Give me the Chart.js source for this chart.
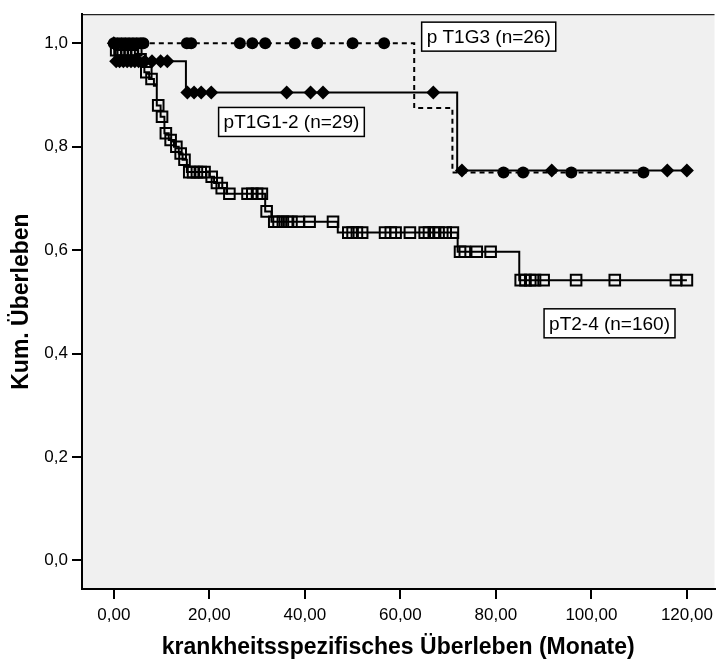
<!DOCTYPE html>
<html>
<head>
<meta charset="utf-8">
<script src="https://cdn.jsdelivr.net/npm/chart.js@4/dist/chart.umd.min.js"></script>
<style>
  html, body { margin: 0; padding: 0; background: #fff; }
  #wrap { width: 724px; height: 664px; }
</style>
</head>
<body>
<div id="wrap"><canvas id="chart" width="724" height="664"></canvas></div>
<script>
// pT1G3 (n=26): dashed line, circles mark censored cases
const g3Times = [0, 62.9, 70.9, 110.9];
const g3Surv = [1.0, 0.875, 0.75, 0.75];
const g3Censored = [0, 0.8, 1.6, 2.4, 3.2, 4.0, 4.8, 5.6, 6.2, 15.3, 16.2, 26.4, 29.0, 31.7, 37.9, 42.6, 50.0, 56.6,
  81.6, 85.7, 95.8, 110.9];

// pT1G1-2 (n=29): solid line, diamonds
const g12Times = [0, 0.4, 15.1, 71.9, 120];
const g12Surv = [1.0, 0.9655, 0.905, 0.754, 0.754];
const g12Censored = [0, 0.5, 1.2, 2.0, 2.8, 3.6, 4.4, 5.2, 6.5, 8.0, 9.8, 11.2,
  15.4, 16.8, 18.3, 20.4, 36.2, 41.2, 43.8, 66.9, 72.9, 91.7, 115.9, 120];

// pT2-4 (n=160): solid line, open squares
const g24Times = [0, 0.3, 5.0, 5.8, 6.4, 7.4, 8.4, 9.0, 9.8, 10.6, 11.5, 12.6, 13.6, 14.4, 15.3,
  20.0, 21.0, 22.0, 23.6, 31.7, 33.0, 46.9, 72.0, 84.9, 120];
const g24Surv = [1.0, 0.987, 0.969, 0.956, 0.944, 0.931, 0.918, 0.880, 0.858, 0.826, 0.813, 0.800, 0.787, 0.775, 0.751,
  0.742, 0.730, 0.720, 0.709, 0.675, 0.655, 0.634, 0.597, 0.542, 0.542];
const g24Censored = [0.5, 1.2, 1.9, 2.6, 3.3, 4.0, 4.7, 5.6, 6.8, 7.9, 9.3, 10.1, 10.9, 11.9, 13.1, 14.0, 14.8,
  15.8, 16.6, 17.4, 18.2, 19.0, 20.5, 21.6, 22.6, 24.2, 28.0, 29.0, 30.0, 31.0, 32.0, 33.6, 34.5, 35.4, 36.3,
  37.2, 38.7, 41.0, 45.9, 49.1, 50.0, 50.9, 52.0, 56.8, 58.0, 59.0, 62.0, 65.1, 66.0, 67.0, 68.0, 69.5, 71.0,
  72.5, 73.5, 76.0, 78.9, 85.2, 86.2, 87.2, 88.2, 90.0, 96.8, 104.9, 117.7, 120.0];

const xTicks = [0, 20, 40, 60, 80, 100, 120];
const yTicks = [0, 0.2, 0.4, 0.6, 0.8, 1.0];

// group labels placed in the plot [label, x (months), y (survival)]
const groupLabels = [
  ['p T1G3 (n=26)', 78.5, 1.013],
  ['pT1G1-2 (n=29)', 37.2, 0.848],
  ['pT2-4 (n=160)', 103.8, 0.4585]
];

const FONT = 'Arial, "Liberation Sans", sans-serif';

function curve(times, surv) {
  return times.map((t, i) => ({x: t, y: surv[i]}));
}

function survAt(times, surv, t) {
  let s = surv[0];
  for (let i = 0; i < times.length; i++) {
    if (times[i] <= t) s = surv[i];
  }
  return s;
}

function marks(times, surv, cens) {
  return cens.map(t => ({x: t, y: survAt(times, surv, t)}));
}

const plotBg = {
  id: 'plotBg',
  beforeDraw(chart) {
    const {ctx, chartArea: a} = chart;
    ctx.save();
    ctx.fillStyle = '#f0f0f0';
    ctx.fillRect(a.left, a.top, a.right - a.left, a.bottom - a.top);
    ctx.strokeStyle = '#222';
    ctx.lineWidth = 1.2;
    ctx.beginPath();
    ctx.moveTo(a.left, a.top + 0.5);
    ctx.lineTo(a.right, a.top + 0.5);
    ctx.stroke();
    ctx.restore();
  },
  afterDatasetsDraw(chart) {
    const {ctx, scales} = chart;
    ctx.save();
    ctx.font = '19px ' + FONT;
    ctx.textAlign = 'center';
    ctx.textBaseline = 'middle';
    groupLabels.forEach(([txt, x, y]) => {
      const cx = scales.x.getPixelForValue(x);
      const cy = scales.y.getPixelForValue(y);
      const w = ctx.measureText(txt).width + 10;
      const h = 29;
      ctx.fillStyle = '#fff';
      ctx.fillRect(cx - w / 2, cy - h / 2, w, h);
      ctx.strokeStyle = '#000';
      ctx.lineWidth = 1.5;
      ctx.strokeRect(cx - w / 2, cy - h / 2, w, h);
      ctx.fillStyle = '#000';
      ctx.fillText(txt, cx, cy + 1);
    });
    ctx.restore();
  }
};

new Chart(document.getElementById('chart'), {
  type: 'scatter',
  data: {
    datasets: [
      {
        label: 'pT2-4 (n=160)', data: curve(g24Times, g24Surv), showLine: true, stepped: 'before',
        borderColor: '#000', borderWidth: 2, pointRadius: 0, fill: false
      },
      {
        label: 'pT2-4 zensiert', data: marks(g24Times, g24Surv, g24Censored), showLine: false,
        pointStyle: 'rect', pointRadius: 7.5, borderWidth: 2, borderColor: '#000', backgroundColor: 'rgba(0,0,0,0)'
      },
      {
        label: 'p T1G3 (n=26)', data: curve(g3Times, g3Surv), showLine: true, stepped: 'before',
        borderColor: '#000', borderWidth: 2, borderDash: [5, 4], pointRadius: 0, fill: false
      },
      {
        label: 'p T1G3 zensiert', data: marks(g3Times, g3Surv, g3Censored), showLine: false,
        pointStyle: 'circle', pointRadius: 6, borderWidth: 0, backgroundColor: '#000'
      },
      {
        label: 'pT1G1-2 (n=29)', data: curve(g12Times, g12Surv), showLine: true, stepped: 'before',
        borderColor: '#000', borderWidth: 2, pointRadius: 0, fill: false
      },
      {
        label: 'pT1G1-2 zensiert', data: marks(g12Times, g12Surv, g12Censored), showLine: false,
        pointStyle: 'rectRot', pointRadius: 7, borderWidth: 0, backgroundColor: '#000'
      }
    ]
  },
  options: {
    responsive: false,
    animation: false,
    events: [],
    layout: {padding: {top: 7, right: 0, left: 0, bottom: 0}},
    plugins: {legend: {display: false}, tooltip: {enabled: false}},
    scales: {
      x: {
        type: 'linear', min: -6.66, max: 125.78,
        afterBuildTicks: s => { s.ticks = xTicks.map(v => ({value: v})); },
        afterFit: s => { s.height = 75; },
        grid: {drawOnChartArea: false, drawTicks: true, tickLength: 10, color: '#000', lineWidth: 2},
        border: {display: true, color: '#000', width: 2},
        ticks: {
          color: '#000', padding: 6, font: {family: FONT, size: 17},
          callback: v => v.toFixed(2).replace('.', ',')
        },
        title: {
          display: true, text: 'krankheitsspezifisches Überleben (Monate)', color: '#000',
          font: {family: FONT, size: 23, weight: 'bold', lineHeight: 1.2}, padding: {top: 0, bottom: 3}
        }
      },
      y: {
        type: 'linear', min: -0.0554, max: 1.0564,
        afterBuildTicks: s => { s.ticks = yTicks.map(v => ({value: v})); },
        afterFit: s => { s.width = 82; },
        grid: {drawOnChartArea: false, drawTicks: true, tickLength: 10, color: '#000', lineWidth: 2},
        border: {display: true, color: '#000', width: 2},
        ticks: {
          color: '#000', padding: 4, font: {family: FONT, size: 17},
          callback: v => v.toFixed(1).replace('.', ',')
        },
        title: {
          display: true, text: 'Kum. Überleben', color: '#000',
          font: {family: FONT, size: 23, weight: 'bold', lineHeight: 1.2}, padding: {top: 8, bottom: 0}
        }
      }
    }
  },
  plugins: [plotBg]
});
</script>
</body>
</html>
